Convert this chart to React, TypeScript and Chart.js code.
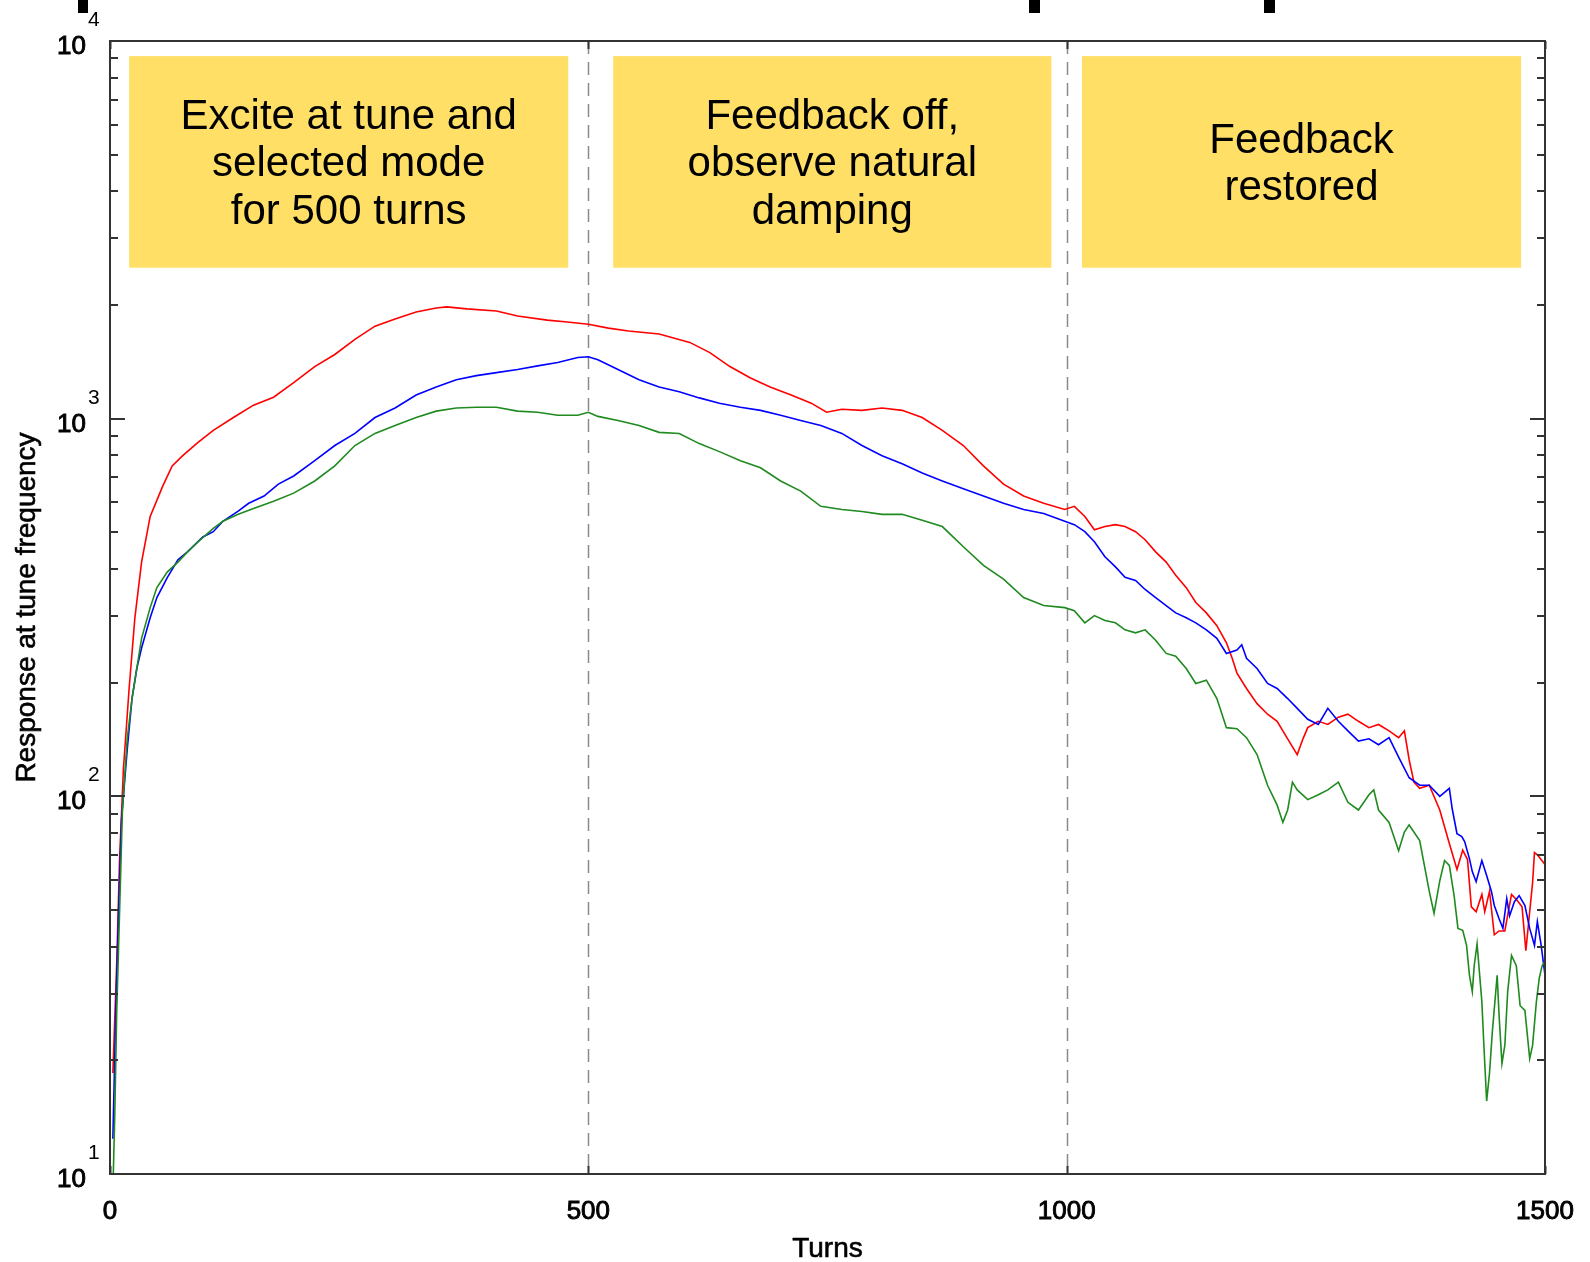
import React, { useEffect, useRef } from 'react';
import { Chart, registerables } from 'chart.js';

Chart.register(...registerables);

const W = 1590;
const H = 1262;
const FONT = '"Liberation Sans", Arial, Helvetica, sans-serif';

// ---- data (turns, response) ----
const redTurns = [3,7,10,14,20,26,33,42,55,65,76,92,108,129,150,171,192,214,235,256,277,298,320,341,352,373,404,426,457,478,500,521,542,574,606,627,648,669,690,712,733,749,765,786,807,828,849,870,892,913,934,955,976,998,1008,1019,1029,1040,1051,1061,1072,1082,1093,1104,1114,1125,1135,1146,1157,1167,1173,1178,1188,1199,1210,1220,1231,1241,1247,1252,1263,1273,1284,1294,1305,1316,1326,1337,1347,1353,1358,1363,1369,1379,1390,1400,1408,1414,1419,1423,1428,1434,1437,1442,1447,1452,1458,1465,1471,1476,1480,1484,1487,1489,1492,1500];
const redValues = [18.5,36,68,118,193,297,417,551,662,750,798,865,931,1007,1086,1140,1245,1374,1479,1622,1758,1836,1917,1963,1977,1953,1927,1870,1824,1803,1778,1737,1706,1675,1592,1496,1374,1283,1213,1155,1099,1040,1059,1052,1067,1052,1007,931,849,750,671,624,597,575,586,551,508,518,524,518,502,478,444,417,385,357,326,306,283,255,232,212,193,176,165,158,142,129,142,152,158,155,162,165,158,152,155,149,143,149,125,109,105,107,92,75,64,72,68,51,49.5,55,49.5,56,43,44,44,55,53,51,39,49.5,59,71,70,66];

const blueTurns = [3,6,9,12,18,23,28,33,42,49,60,71,81,97,108,118,134,145,161,176,192,214,235,256,277,298,320,341,362,383,404,426,447,468,489,500,510,531,553,574,595,616,637,659,680,701,722,743,765,786,807,828,849,870,892,913,934,955,976,998,1008,1019,1029,1040,1051,1061,1072,1082,1093,1104,1114,1125,1135,1146,1157,1167,1178,1183,1188,1199,1210,1220,1231,1241,1252,1263,1273,1284,1294,1305,1316,1326,1337,1347,1358,1369,1379,1390,1400,1403,1408,1413,1416,1421,1424,1428,1434,1439,1444,1447,1452,1456,1460,1463,1468,1473,1479,1484,1489,1492,1496,1500];
const blueValues = [12.4,26.7,49.5,86.5,133,181.5,218,247,297,336,380,423,444,486,502,535,569,597,624,671,705,774,849,914,1007,1067,1155,1213,1268,1300,1324,1349,1380,1409,1452,1459,1432,1349,1268,1213,1178,1135,1099,1072,1052,1021,989,959,914,849,798,760,718,684,652,624,597,575,561,535,524,502,472,431,405,380,373,353,336,320,306,297,288,276,262,239,244,252,232,218,199,193,181.5,171,160,155,171,158,149,140,142,137,143,127,112,107,107,100,105,92.7,79.6,78.2,75.9,68.4,63.2,59.4,67.6,61.7,56,51.4,47.4,44.7,53.6,48.3,52.6,54.6,51.4,44.7,40.3,46.6,40.3,33.6];

const greenTurns = [3,5,7,10,13,18,23,28,33,42,49,60,71,81,92,108,118,134,150,171,192,214,235,256,277,298,320,341,362,383,404,426,447,468,489,500,510,531,553,574,595,616,637,659,680,701,722,743,765,786,807,828,849,870,892,913,934,955,976,998,1008,1019,1029,1040,1051,1061,1072,1082,1093,1104,1114,1125,1135,1146,1157,1167,1178,1188,1199,1210,1220,1226,1231,1236,1241,1252,1263,1273,1284,1294,1305,1316,1321,1326,1337,1347,1353,1358,1369,1379,1384,1390,1395,1400,1405,1409,1414,1418,1421,1424,1426,1429,1434,1436,1439,1442,1445,1450,1452,1455,1458,1461,1465,1470,1474,1479,1484,1487,1491,1494,1497,1500];
const greenValues = [9,14.4,26.7,49.5,92,142,181.5,218,262,316,357,393,417,444,472,512,535,558,578,604,635,684,750,849,914,959,1007,1047,1067,1072,1072,1047,1040,1021,1021,1040,1014,989,959,920,914,859,818,774,741,684,643,586,575,568,558,558,538,518,458,409,376,336,320,316,310,288,301,292,288,276,271,276,259,239,235,218,199,203,181.5,152,151,143,129,107,94.8,85.3,92,109,104,98,101,104,109,96.4,92,101,104,92,85.3,71.8,80.4,84,76.4,56.1,49,59.7,67.6,65.6,54.6,44.7,44.2,40.3,33.6,30.4,35.6,40.7,28.6,22.2,15.6,18.5,23.9,33.6,26.3,19.6,21.9,30.4,37.9,35.6,27.9,27.1,20.2,21.9,28.6,33,35.6,36.6];

// ---- axes / labels ----
const xTickValues = [0, 500, 1000, 1500];
const xTickLabels = ['0', '500', '1000', '1500'];
const yDecadeValues = [10, 100, 1000, 10000];
const yDecadeExponents = ['1', '2', '3', '4'];
const dividerTurns = [500, 1000];
const xTitle = 'Turns';
const yTitle = 'Response at tune frequency';

// ---- phase annotation boxes ----
const boxStartTurns = [20, 526, 1016];
const boxEndTurns = [479, 984, 1475];
const boxTopValue = 9120;
const boxBottomValue = 2510;
const boxLines = [
  ['Excite at tune and', 'selected mode', 'for 500 turns'],
  ['Feedback off,', 'observe natural', 'damping'],
  ['Feedback', 'restored'],
];

function heavyText(ctx: CanvasRenderingContext2D, s: string, x: number, y: number, w: number) {
  ctx.fillText(s, x, y);
  ctx.lineWidth = w;
  ctx.strokeStyle = '#000';
  ctx.strokeText(s, x, y);
}

const overlayPlugin = {
  id: 'overlay',
  beforeDatasetsDraw(chart: any) {
    const { ctx, scales } = chart;
    const x = scales.x;
    const y = scales.y;
    const a = chart.chartArea;
    ctx.save();
    for (let i = 0; i < boxStartTurns.length; i++) {
      const l = x.getPixelForValue(boxStartTurns[i]);
      const r = x.getPixelForValue(boxEndTurns[i]);
      const t = y.getPixelForValue(boxTopValue);
      const b = y.getPixelForValue(boxBottomValue);
      ctx.fillStyle = '#FFDF66';
      ctx.fillRect(l, t, r - l, b - t);
      ctx.fillStyle = '#000';
      ctx.font = `42px ${FONT}`;
      ctx.textAlign = 'center';
      ctx.textBaseline = 'middle';
      const lines = boxLines[i];
      const cy = (t + b) / 2 + 3;
      const lh = 47.5;
      lines.forEach((s, j) => {
        ctx.fillText(s, (l + r) / 2, cy + (j - (lines.length - 1) / 2) * lh);
      });
    }
    ctx.strokeStyle = '#8a8a8a';
    ctx.lineWidth = 1.5;
    ctx.setLineDash([13, 8]);
    for (const d of dividerTurns) {
      const px = Math.round(x.getPixelForValue(d)) + 0.5;
      ctx.beginPath();
      ctx.moveTo(px, a.top);
      ctx.lineTo(px, a.bottom);
      ctx.stroke();
    }
    ctx.restore();
  },
  afterDatasetsDraw(chart: any) {
    const { ctx, scales } = chart;
    const x = scales.x;
    const y = scales.y;
    const a = chart.chartArea;
    ctx.save();
    ctx.strokeStyle = '#333';
    ctx.lineWidth = 2;
    ctx.setLineDash([]);
    ctx.strokeRect(a.left, a.top, a.right - a.left, a.bottom - a.top);

    for (let d = 0; d < yDecadeValues.length; d++) {
      const base = yDecadeValues[d];
      const py = Math.round(y.getPixelForValue(base));
      ctx.beginPath();
      ctx.moveTo(a.left, py); ctx.lineTo(a.left + 15, py);
      ctx.moveTo(a.right, py); ctx.lineTo(a.right - 15, py);
      ctx.stroke();
      if (d < yDecadeValues.length - 1) {
        for (let k = 2; k <= 9; k++) {
          const pm = Math.round(y.getPixelForValue(base * k));
          ctx.beginPath();
          ctx.moveTo(a.left, pm); ctx.lineTo(a.left + 8, pm);
          ctx.moveTo(a.right, pm); ctx.lineTo(a.right - 8, pm);
          ctx.stroke();
        }
      }
    }
    for (const v of xTickValues) {
      const px = Math.round(x.getPixelForValue(v)) + 0.5;
      ctx.beginPath();
      ctx.moveTo(px, a.bottom); ctx.lineTo(px, a.bottom - 8);
      ctx.moveTo(px, a.top); ctx.lineTo(px, a.top + 8);
      ctx.stroke();
    }

    ctx.fillStyle = '#000';
    for (let d = 0; d < yDecadeValues.length; d++) {
      const py = y.getPixelForValue(yDecadeValues[d]);
      ctx.font = `26px ${FONT}`;
      ctx.textAlign = 'right';
      ctx.textBaseline = 'alphabetic';
      heavyText(ctx, '10', a.left - 24, py + 13, 0.9);
      ctx.font = `21px ${FONT}`;
      ctx.textAlign = 'left';
      ctx.fillText(yDecadeExponents[d], a.left - 22, py - 15);
    }
    ctx.font = `26px ${FONT}`;
    ctx.textAlign = 'center';
    ctx.textBaseline = 'alphabetic';
    xTickValues.forEach((v, i) => {
      heavyText(ctx, xTickLabels[i], x.getPixelForValue(v), a.bottom + 45, 0.9);
    });
    ctx.font = `28px ${FONT}`;
    heavyText(ctx, xTitle, (a.left + a.right) / 2, a.bottom + 83, 0.6);
    ctx.save();
    ctx.translate(35, (a.top + a.bottom) / 2);
    ctx.rotate(-Math.PI / 2);
    ctx.textAlign = 'center';
    heavyText(ctx, yTitle, 0, 0, 0.6);
    ctx.restore();

    ctx.fillStyle = '#000';
    ctx.fillRect(78, 0, 10, 13);
    ctx.fillRect(1029, 0, 11, 13);
    ctx.fillRect(1264, 0, 11, 13);
    ctx.restore();
  },
};

function toPoints(t: number[], v: number[]) {
  return t.map((tt, i) => ({ x: tt, y: v[i] }));
}

export default function App() {
  const ref = useRef<HTMLCanvasElement | null>(null);
  useEffect(() => {
    if (!ref.current) return;
    const chart = new Chart(ref.current, {
      type: 'line',
      data: {
        datasets: [
          { data: toPoints(greenTurns, greenValues), borderColor: '#1F8A1F', borderWidth: 1.6, pointRadius: 0, tension: 0, fill: false },
          { data: toPoints(blueTurns, blueValues), borderColor: '#0000FF', borderWidth: 1.6, pointRadius: 0, tension: 0, fill: false },
          { data: toPoints(redTurns, redValues), borderColor: '#FF0000', borderWidth: 1.6, pointRadius: 0, tension: 0, fill: false },
        ],
      },
      options: {
        responsive: false,
        animation: false,
        devicePixelRatio: 1,
        layout: { padding: { left: 110, top: 41, right: 45, bottom: 88 } },
        scales: {
          x: { type: 'linear', min: 0, max: 1500, display: false },
          y: { type: 'logarithmic', min: 10, max: 10000, display: false },
        },
        plugins: { legend: { display: false }, tooltip: { enabled: false } },
        events: [],
      },
      plugins: [overlayPlugin],
    } as any);
    return () => chart.destroy();
  }, []);
  return (
    <div style={{ position: 'absolute', left: 0, top: 0, width: W, height: H, background: '#fff' }}>
      <canvas ref={ref} width={W} height={H} style={{ display: 'block', width: W, height: H }} />
    </div>
  );
}
